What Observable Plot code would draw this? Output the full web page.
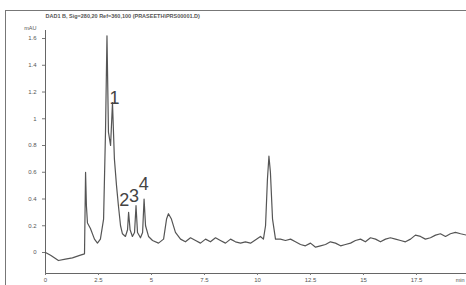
<!DOCTYPE html>
<html><head><meta charset="utf-8">
<script src="https://cdn.jsdelivr.net/npm/d3@7"></script>
<script src="https://cdn.jsdelivr.net/npm/@observablehq/plot@0.6"></script>
<style>
body{margin:0;background:#fff;}
#wrap{position:relative;width:466px;height:285px;overflow:hidden;}
#box{position:absolute;left:5px;top:10px;width:470px;height:290px;border-left:1px solid #777;border-top:1px solid #777;}
#chart{position:absolute;left:0;top:0;}
</style></head><body>
<div id="wrap"><div id="box"></div><div id="chart"></div></div>
<script>
const title = "DAD1 B, Sig=280,20 Ref=360,100 (PRASEETH\\PRS00001.D)";
const yUnit = "mAU";
const xUnit = "min";
const xTicks = [0, 2.5, 5, 7.5, 10, 12.5, 15, 17.5];
const xTickLabels = ["0", "2.5", "5", "7.5", "10", "12.5", "15", "17.5"];
const yTicks = [0, 0.2, 0.4, 0.6, 0.8, 1, 1.2, 1.4, 1.6];
const yTickLabels = ["0", "0.2", "0.4", "0.6", "0.8", "1", "1.2", "1.4", "1.6"];
const time = [0,0.24,0.61,0.94,1.27,1.65,1.84,1.89,1.93,1.98,2.12,2.31,2.45,2.59,2.74,2.83,2.9,2.97,3.07,3.16,3.25,3.35,3.44,3.54,3.63,3.77,3.87,3.92,3.99,4.1,4.2,4.27,4.34,4.48,4.58,4.65,4.72,4.86,5.05,5.33,5.57,5.71,5.8,5.94,6.13,6.37,6.6,6.84,7.08,7.31,7.55,7.78,8.02,8.25,8.49,8.73,8.96,9.2,9.43,9.67,9.95,10.14,10.28,10.38,10.47,10.54,10.61,10.71,10.85,11.08,11.32,11.56,11.79,12.03,12.26,12.5,12.74,12.97,13.21,13.44,13.68,13.92,14.15,14.39,14.62,14.86,15.09,15.33,15.57,15.8,16.04,16.27,16.51,16.75,16.98,17.22,17.45,17.69,17.92,18.16,18.4,18.63,18.87,19.1,19.34,19.58,19.86];
const signal = [0,-0.02,-0.06,-0.05,-0.04,-0.02,-0.01,0.6,0.35,0.22,0.18,0.1,0.07,0.1,0.25,0.9,1.62,0.9,0.8,1.12,0.7,0.5,0.35,0.2,0.14,0.12,0.17,0.3,0.17,0.12,0.15,0.35,0.15,0.11,0.15,0.4,0.2,0.12,0.09,0.07,0.1,0.25,0.29,0.25,0.15,0.1,0.08,0.11,0.09,0.07,0.1,0.08,0.11,0.09,0.07,0.1,0.08,0.07,0.08,0.07,0.1,0.12,0.1,0.2,0.55,0.72,0.6,0.25,0.1,0.1,0.09,0.1,0.08,0.06,0.05,0.07,0.04,0.05,0.06,0.08,0.07,0.05,0.06,0.07,0.09,0.1,0.08,0.11,0.1,0.08,0.1,0.11,0.1,0.09,0.08,0.1,0.13,0.12,0.1,0.11,0.13,0.14,0.12,0.14,0.15,0.14,0.13];
const peakLabels = ["1", "2", "3", "4"];
const peakTime = [3.26, 3.72, 4.18, 4.64];
const peakLabelY = [1.15, 0.39, 0.42, 0.51];

const trace = time.map((t, i) => ({t, v: signal[i]}));
const peaks = peakLabels.map((l, i) => ({l, t: peakTime[i], v: peakLabelY[i]}));
const yMin = -0.157, yMax = 1.66;

const chart = Plot.plot({
  width: 466, height: 285,
  marginLeft: 45, marginRight: 0, marginTop: 30, marginBottom: 12,
  style: {fontFamily: "Liberation Sans, Arial, sans-serif", background: "transparent", overflow: "visible"},
  x: {domain: [0, 19.86]},
  y: {domain: [yMin, yMax]},
  marks: [
    Plot.ruleX([0], {stroke: "#666", strokeWidth: 1}),
    Plot.ruleY([yMin], {stroke: "#666", strokeWidth: 1}),
    Plot.axisY({ticks: yTicks, tickFormat: (d, i) => yTickLabels[i], tickSize: 3, fontSize: 6, fill: "#555", stroke: "#777", label: null}),
    Plot.axisX({ticks: xTicks, tickFormat: (d, i) => xTickLabels[i], tickSize: 2, tickPadding: 2, fontSize: 6, fill: "#555", stroke: "#777", label: null}),
    Plot.line(trace, {x: "t", y: "v", stroke: "#555", strokeWidth: 1.2, curve: "linear"}),
    Plot.text(peaks, {x: "t", y: "v", text: "l", fontSize: 18, fill: "#444", fontFamily: "Liberation Sans, Arial, sans-serif"}),
    Plot.text([title], {frameAnchor: "top-left", dy: -16, textAnchor: "start", fontSize: 5.5, fontWeight: "bold", fill: "#555"}),
    Plot.text([yUnit], {frameAnchor: "top-left", dx: -9, dy: -4, textAnchor: "end", fontSize: 5.5, fill: "#555"}),
    Plot.text([xUnit], {frameAnchor: "bottom-right", dx: -2, dy: 8, textAnchor: "end", fontSize: 5.5, fill: "#555"})
  ]
});
document.getElementById("chart").appendChild(chart);
</script>
</body></html>
